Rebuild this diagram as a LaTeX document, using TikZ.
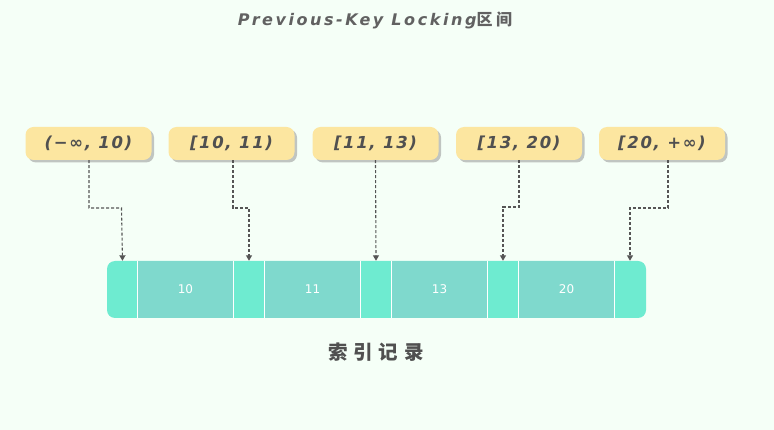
\documentclass[tikz,border=0pt]{standalone}
\usepackage{fontspec}
\setmainfont{DejaVu Sans}
\newfontfamily\hand{DejaVu Sans}[ItalicFont={DejaVu Sans Bold Oblique}, LetterSpace=10]
\newfontfamily\titlefont{DejaVu Sans}[ItalicFont={DejaVu Sans Bold Oblique}, LetterSpace=16]
\newfontfamily\cjkwide{Noto Sans CJK SC}[LetterSpace=22]
\newfontfamily\cjkcap{Noto Sans CJK SC}[LetterSpace=30]
\usetikzlibrary{shadows,arrows.meta}
\definecolor{bgc}{HTML}{F5FFF7}
\definecolor{boxc}{HTML}{FCE6A0}
\definecolor{keyc}{HTML}{7FD9CD}
\definecolor{gapc}{HTML}{6EEBD0}
\definecolor{txtc}{HTML}{505050}
\definecolor{linec}{HTML}{555555}
\tikzset{
  rangebox/.style={draw=none, fill=boxc, rounded corners=8pt, minimum width=126pt, minimum height=33pt,
    inner sep=0pt, font=\hand\itshape\fontsize{16.5}{16.5}\selectfont, text=txtc,
    drop shadow={shadow xshift=2.5pt, shadow yshift=-2.5pt, opacity=0.45, fill=gray}},
  keycell/.style={draw=none, fill=keyc, minimum width=95pt, minimum height=57pt,
    inner sep=0pt, font=\fontsize{12}{12}\selectfont, text=white},
  gapcell/.style={minimum width=31pt, minimum height=57pt, inner sep=0pt},
  divider/.style={draw=white, line width=1.3pt},
  link/.style={draw=linec, dash pattern=on 3pt off 2pt, line width=1.1pt,
    -{Triangle[length=5.5pt,width=6pt]}},
}
\begin{document}
\begin{tikzpicture}[x=1pt,y=-1pt]
\useasboundingbox (0,0) rectangle (774,430);
\fill[bgc] (0,0) rectangle (774,430);

\node[font=\titlefont\itshape\fontsize{16}{16}\selectfont, text=txtc!90] (title) at (375,20)
  {Previous-Key Locking{\cjkwide\bfseries 区间}};

% bar
\node[fill=gapc, rounded corners=8pt, minimum width=539pt, minimum height=57pt, inner sep=0pt] (bar) at (376.5,289.5) {};
\node[keycell] (k1) at (185.5,289.5) {10};
\node[keycell] (k2) at (312.5,289.5) {11};
\node[keycell] (k3) at (439.5,289.5) {13};
\node[keycell] (k4) at (566.5,289.5) {20};
\foreach \k in {k1,k2,k3,k4}{
  \draw[divider] (\k.north west) -- (\k.south west);
  \draw[divider] (\k.north east) -- (\k.south east);
}
\node[gapcell] (g1) at (122.5,289.5) {};
\node[gapcell] (g2) at (249,289.5) {};
\node[gapcell] (g3) at (376,289.5) {};
\node[gapcell] (g4) at (503,289.5) {};
\node[gapcell] (g5) at (630,289.5) {};

% ranges
\node[rangebox] (r1) at (88.5,143.5) {(−∞, 10)};
\node[rangebox] (r2) at (231.5,143.5) {[10, 11)};
\node[rangebox] (r3) at (375.5,143.5) {[11, 13)};
\node[rangebox] (r4) at (519,143.5) {[13, 20)};
\node[rangebox] (r5) at (662,143.5) {[20, +∞)};

% links
\draw[link] (r1.south -| 89,0) |- (121.5,208) -- (g1.north);
\draw[link] (r2.south -| 233,0) |- (249,208) -- (g2.north);
\draw[link] (r3.south) -- (g3.north);
\draw[link] (r4.south) |- (503,207) -- (g4.north);
\draw[link] (r5.south -| 668,0) |- (630,208) -- (g5.north);

\node[font=\cjkcap\bfseries\fontsize{19.5}{19.5}\selectfont, text=txtc] (cap) at (376,352) {索引记录};
\end{tikzpicture}
\end{document}
